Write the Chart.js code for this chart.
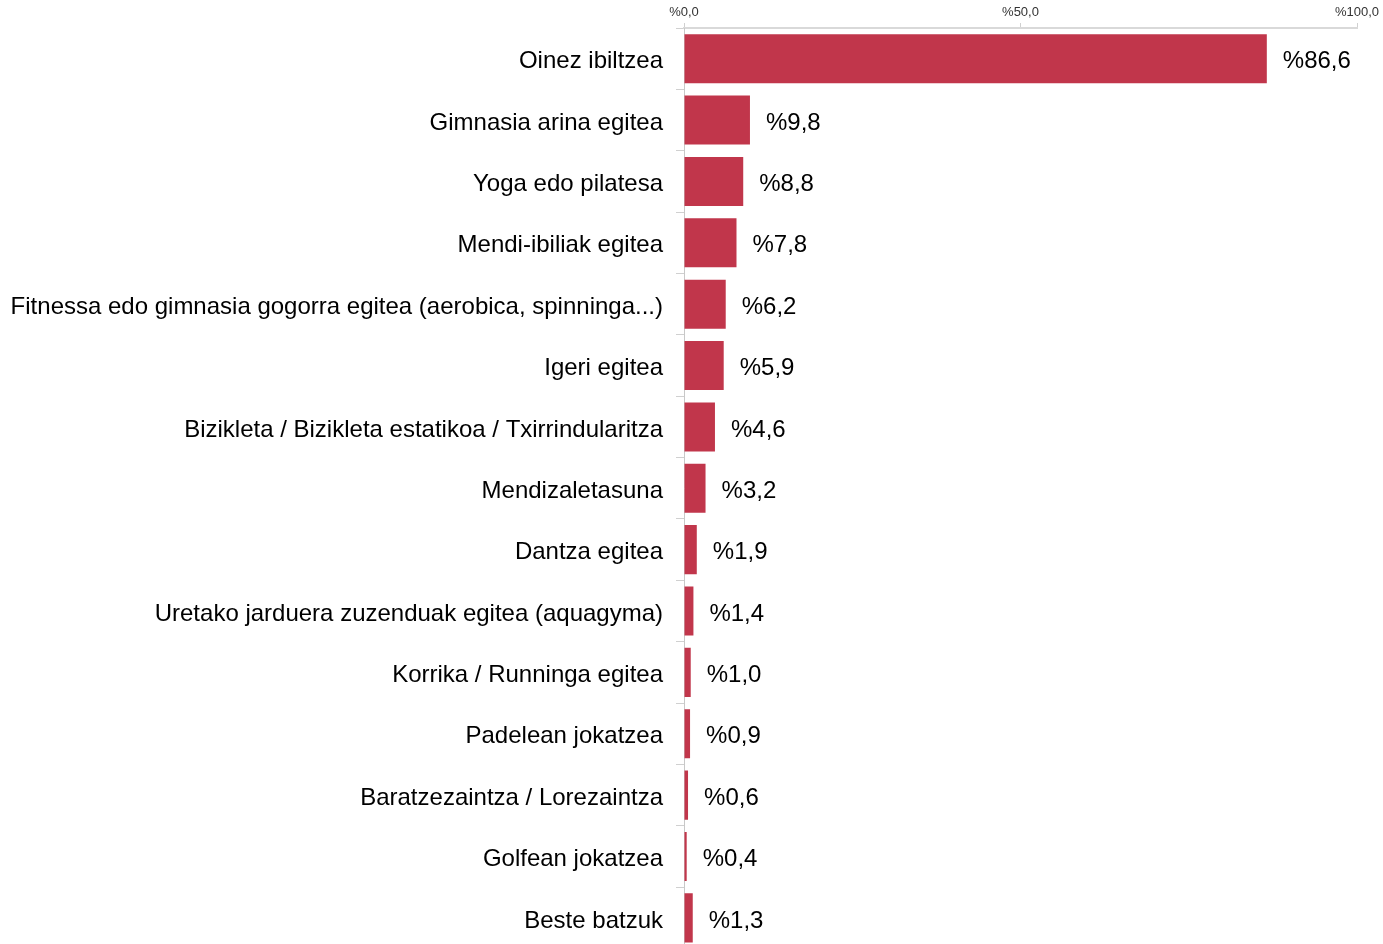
<!DOCTYPE html>
<html>
<head>
<meta charset="utf-8">
<script src="https://cdn.jsdelivr.net/npm/chart.js@4/dist/chart.umd.min.js"></script>
<style>
  html, body { margin: 0; padding: 0; background: #fff; overflow: hidden; }
  #wrap { position: relative; width: 1383px; height: 976px; }
</style>
</head>
<body>
<div id="wrap"><canvas id="chart"></canvas></div>
<script>
const categories = [
  "Oinez ibiltzea",
  "Gimnasia arina egitea",
  "Yoga edo pilatesa",
  "Mendi-ibiliak egitea",
  "Fitnessa edo gimnasia gogorra egitea (aerobica, spinninga...)",
  "Igeri egitea",
  "Bizikleta / Bizikleta estatikoa / Txirrindularitza",
  "Mendizaletasuna",
  "Dantza egitea",
  "Uretako jarduera zuzenduak egitea (aquagyma)",
  "Korrika / Runninga egitea",
  "Padelean jokatzea",
  "Baratzezaintza / Lorezaintza",
  "Golfean jokatzea",
  "Beste batzuk",
];
const values = [86.6, 9.8, 8.8, 7.8, 6.2, 5.9, 4.6, 3.2, 1.9, 1.4, 1.0, 0.9, 0.6, 0.4, 1.3];
const axisTicks = [0, 50, 100];

const fmt = (v) => "%" + v.toFixed(1).replace(".", ",");

// value labels at the end of each bar
const valueLabels = {
  id: "valueLabels",
  afterDatasetsDraw(chart) {
    const ctx = chart.ctx;
    const meta = chart.getDatasetMeta(0);
    ctx.save();
    ctx.font = "24px 'Liberation Sans', Arial, sans-serif";
    ctx.fillStyle = "#000";
    ctx.textAlign = "left";
    ctx.textBaseline = "middle";
    meta.data.forEach((bar, i) => {
      ctx.fillText(fmt(values[i]), bar.x + 16, bar.y + 3);
    });
    ctx.restore();
  },
};

window.onload = () => {
  const ctx = document.getElementById("chart");
  new Chart(ctx, {
    type: "bar",
    data: {
      labels: categories,
      datasets: [
        {
          data: values,
          backgroundColor: "#c1364b",
          barPercentage: 0.8,
          categoryPercentage: 1.0,
        },
      ],
    },
    options: {
      indexAxis: "y",
      responsive: true,
      maintainAspectRatio: false,
      animation: false,
      layout: { padding: { left: 0, right: 26, top: 0, bottom: 0 } },
      plugins: {
        legend: { display: false },
        tooltip: { enabled: false },
      },
      scales: {
        x: {
          position: "top",
          min: 0,
          max: 100,
          afterBuildTicks: (scale) => {
            scale.ticks = axisTicks.map((v) => ({ value: v }));
          },
          afterFit: (scale) => {
            scale.height = 28;
          },
          ticks: {
            callback: (v) => fmt(v),
            font: { family: "'Liberation Sans', Arial, sans-serif", size: 13 },
            color: "#333",
            padding: 3,
            maxRotation: 0,
          },
          grid: {
            drawOnChartArea: false,
            tickLength: 5,
            color: "#d0d0d0",
          },
          border: { color: "#d9d9d9", width: 2 },
        },
        y: {
          afterFit: (scale) => {
            scale.width = 684;
          },
          ticks: {
            font: { family: "'Liberation Sans', Arial, sans-serif", size: 24 },
            color: "#000",
            padding: 13,
            labelOffset: 3,
            autoSkip: false,
          },
          grid: {
            drawOnChartArea: false,
            offset: true,
            tickLength: 8,
            color: "#d0d0d0",
          },
          border: { color: "#c8c8c8", width: 1 },
        },
      },
    },
    plugins: [valueLabels],
  });
};
</script>
</body>
</html>
